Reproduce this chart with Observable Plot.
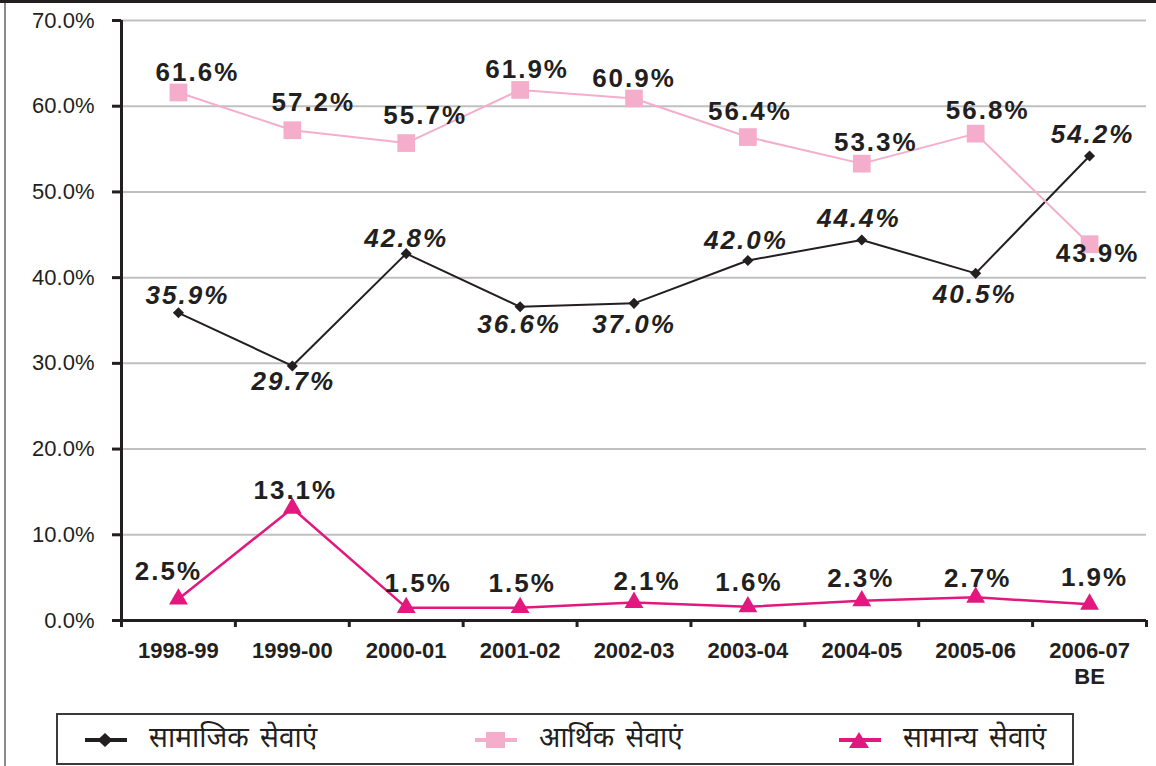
<!DOCTYPE html>
<html>
<head>
<meta charset="utf-8">
<script src="https://cdn.jsdelivr.net/npm/d3@7"></script>
<script src="https://cdn.jsdelivr.net/npm/@observablehq/plot@0.6"></script>
<style>
  html, body { margin: 0; padding: 0; background: #fff; }
  #wrap { position: relative; width: 1156px; height: 766px; overflow: hidden; background: #fff; }
  #topline { position: absolute; left: 0; top: 0; width: 1156px; height: 3px; background: #231f20; }
  #leftline { position: absolute; left: 4px; top: 3px; width: 2px; height: 763px; background: #8a8a8a; }
  #chart { position: absolute; left: 0; top: 0; }
  #chart g[aria-label="text"] text { letter-spacing: 2px; }
  #legend { position: absolute; left: 56px; top: 713px; width: 1014px; height: 48px; border: 2px solid #3a3a3a; box-sizing: content-box; }
  .item { position: absolute; top: 0; height: 50px; display: flex; align-items: center; }
  .item span { font-family: "Noto Sans Devanagari", "Lohit Devanagari", "Noto Sans", sans-serif; font-size: 28px; word-spacing: 4px; color: #231f20; margin-left: 22px; }
</style>
</head>
<body>
<div id="wrap">
  <div id="chart"></div>
  <div id="topline"></div>
  <div id="leftline"></div>
  <div id="legend"></div>
</div>
<script>
// ---- data ----
const years = ["1998-99", "1999-00", "2000-01", "2001-02", "2002-03", "2003-04", "2004-05", "2005-06", "2006-07\nBE"];
const socialServices = [35.9, 29.7, 42.8, 36.6, 37.0, 42.0, 44.4, 40.5, 54.2];
const economicServices = [61.6, 57.2, 55.7, 61.9, 60.9, 56.4, 53.3, 56.8, 43.9];
const generalServices = [2.5, 13.1, 1.5, 1.5, 2.1, 1.6, 2.3, 2.7, 1.9];
const seriesNames = ["सामाजिक सेवाएं", "आर्थिक सेवाएं", "सामान्य सेवाएं"];
const yTicks = [0, 10, 20, 30, 40, 50, 60, 70];

// ---- label placement (layout only) ----
const socialOffsets = [[8,-17],[0,16],[-1,-15],[-2,18],[-1,21],[-3,-20],[-4,-21],[-2,21],[2,-21]];
const economicOffsets = [[18,-20],[20,-28],[18,-27],[6,-20],[-1,-20],[1,-25],[13,-21],[11,-23],[7,9]];
const generalOffsets = [[-11,-27],[2,-18],[11,-24],[1,-24],[12,-21],[0,-24],[-2,-22],[1,-19],[4,-27]];

const ink = "#231f20";
const series = [
  {values: socialServices, color: ink, symbol: "diamond2", r: 5, width: 2, italic: true, offsets: socialOffsets},
  {values: economicServices, color: "#f4aecb", symbol: "square", r: 10, width: 2, italic: false, offsets: economicOffsets},
  {values: generalServices, color: "#e2187f", symbol: "triangle", r: 7, width: 2.5, italic: false, offsets: generalOffsets}
];

const marks = [
  Plot.gridY({ticks: yTicks.filter(d => d > 0), stroke: "#c0c0c0", strokeOpacity: 1, strokeWidth: 2}),
];
for (const s of series) {
  const data = s.values.map((v, i) => ({i, v}));
  marks.push(Plot.line(data, {x: "i", y: "v", stroke: s.color, strokeWidth: s.width}));
}
marks.push(
  Plot.ruleY([0], {stroke: ink, strokeWidth: 3}),
  Plot.ruleX([-0.5], {stroke: ink, strokeWidth: 3}),
  Plot.axisY({ticks: yTicks, tickFormat: d => d.toFixed(1) + "%", tickSize: 9, tickPadding: 18, fontSize: 22, stroke: ink, strokeWidth: 3, fill: ink, label: null}),
  Plot.axisX({ticks: d3.range(-0.5, 9, 1), tickFormat: () => "", tickSize: 7, stroke: ink, strokeWidth: 3, label: null}),
  Plot.axisX({ticks: d3.range(0, 9), tickFormat: i => years[i], tickSize: 0, tickPadding: 20, fontSize: 22, fontWeight: "bold", lineHeight: 1.15, fill: ink, label: null})
);
for (const s of series) {
  const data = s.values.map((v, i) => ({i, v}));
  marks.push(Plot.dot(data, {x: "i", y: "v", symbol: s.symbol, r: s.r, fill: s.color, stroke: "none"}));
  data.forEach((d, k) => {
    marks.push(Plot.text([d], {
      x: "i", y: "v", text: d => d.v.toFixed(1) + "%",
      dx: s.offsets[k][0] + 1, dy: s.offsets[k][1],
      fontSize: 26, fontWeight: "bold", fontStyle: s.italic ? "italic" : "normal",
      fill: ink, textAnchor: "middle"
    }));
  });
}

const chart = Plot.plot({
  width: 1156,
  height: 700,
  marginLeft: 121,
  marginRight: 10,
  marginTop: 20,
  marginBottom: 80,
  x: {type: "linear", domain: [-0.5, 8.5], axis: null},
  y: {domain: [0, 70], axis: null},
  style: {fontFamily: "'Liberation Sans', Arial, sans-serif", background: "transparent", color: ink, overflow: "visible"},
  marks
});
document.getElementById("chart").appendChild(chart);

// ---- legend ----
const legend = document.getElementById("legend");
const legendX = [27, 417, 781];
series.forEach((s, k) => {
  const item = document.createElement("div");
  item.className = "item";
  item.style.left = legendX[k] + "px";
  let sym = "";
  if (s.symbol === "diamond2") sym = `<polygon points="20,3 27.5,10 20,17 12.5,10" fill="${s.color}"/>`;
  if (s.symbol === "square") sym = `<rect x="11" y="2" width="19" height="16" fill="${s.color}"/>`;
  if (s.symbol === "triangle") sym = `<polygon points="20,2 30,18 10,18" fill="${s.color}"/>`;
  item.innerHTML = `<svg width="42" height="20"><line x1="0" x2="42" y1="10" y2="10" stroke="${s.color}" stroke-width="4"/>${sym}</svg><span>${seriesNames[k]}</span>`;
  legend.appendChild(item);
});
</script>
</body>
</html>
